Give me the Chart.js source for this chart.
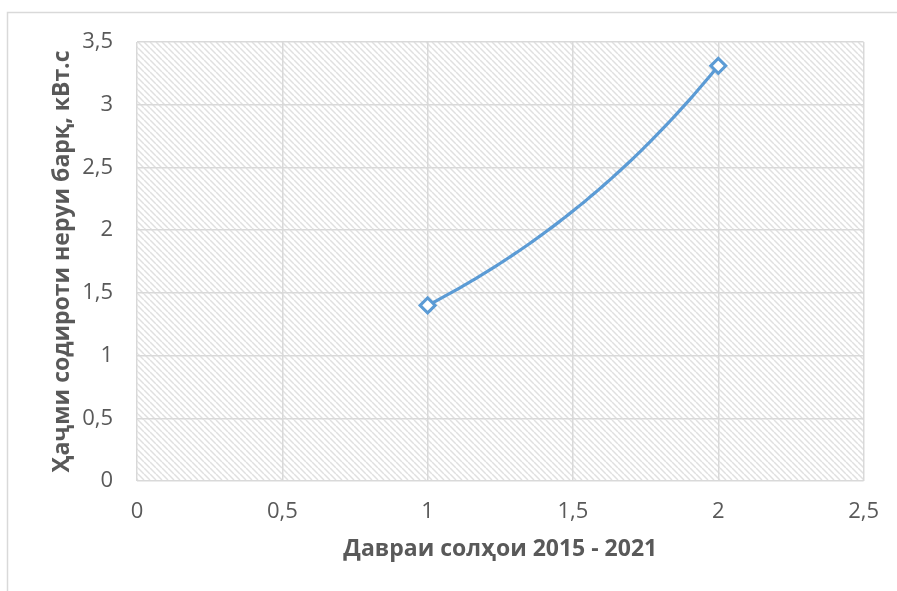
<!DOCTYPE html>
<html>
<head>
<meta charset="utf-8">
<script src="https://cdn.jsdelivr.net/npm/chart.js@4/dist/chart.umd.min.js"></script>
<style>
  html, body { margin: 0; padding: 0; background: #fff; }
  #wrap { width: 897px; height: 591px; position: relative; }
</style>
</head>
<body>
<div id="wrap"><canvas id="chart" width="897" height="591"></canvas></div>
<script>
// observed points (period index -> output, kWh)
const periods = [1, 2];
const output = [1.4, 3.31];
const xTicks = [0, 0.5, 1, 1.5, 2, 2.5];
const yTicks = [0, 0.5, 1, 1.5, 2, 2.5, 3, 3.5];

const xTitle = 'Давраи солҳои 2015 - 2021';
const yTitle = 'Ҳаҷми содироти неруи барқ, кВт.с';

const BLUE = '#5b9bd5';
const GRID = '#d9d9d9';
const TEXT = '#595959';
const FONT = "'Open Sans', 'Noto Sans', sans-serif";

const comma = v => String(v).replace('.', ',');

// light diagonal hatch for the plot area
function hatchPattern(ctx) {
  const n = 6;
  const c = document.createElement('canvas');
  c.width = n; c.height = n;
  const p = c.getContext('2d');
  p.strokeStyle = '#e0e0e0';
  p.lineWidth = 1.5;
  p.beginPath();
  for (const o of [-n, 0, n]) {
    p.moveTo(o, 0);
    p.lineTo(o + n, n);
  }
  p.stroke();
  return ctx.createPattern(c, 'repeat');
}

const backdrop = {
  id: 'backdrop',
  beforeDraw(chart) {
    const { ctx, chartArea: a } = chart;
    ctx.save();
    // outer frame (top and left edges)
    ctx.strokeStyle = '#d9d9d9';
    ctx.lineWidth = 1.5;
    ctx.beginPath();
    ctx.moveTo(7.5, chart.height);
    ctx.lineTo(7.5, 12.5);
    ctx.lineTo(chart.width, 12.5);
    ctx.stroke();
    ctx.fillStyle = hatchPattern(ctx);
    ctx.fillRect(a.left, a.top, a.right - a.left, a.bottom - a.top);
    ctx.restore();
  }
};

// exponential trendline fitted on the observed points
const expTrend = {
  id: 'expTrend',
  beforeDatasetsDraw(chart) {
    const n = periods.length;
    let sx = 0, sy = 0, sxx = 0, sxy = 0;
    for (let i = 0; i < n; i++) {
      const ly = Math.log(output[i]);
      sx += periods[i]; sy += ly;
      sxx += periods[i] * periods[i]; sxy += periods[i] * ly;
    }
    const b = (n * sxy - sx * sy) / (n * sxx - sx * sx);
    const a = Math.exp((sy - b * sx) / n);
    const xs = chart.scales.x, ys = chart.scales.y;
    const x0 = Math.min(...periods), x1 = Math.max(...periods);
    const ctx = chart.ctx;
    ctx.save();
    ctx.strokeStyle = BLUE;
    ctx.lineWidth = 3.2;
    ctx.lineCap = 'round';
    ctx.beginPath();
    const steps = 80;
    for (let k = 0; k <= steps; k++) {
      const x = x0 + (x1 - x0) * k / steps;
      const px = xs.getPixelForValue(x), py = ys.getPixelForValue(a * Math.exp(b * x));
      k ? ctx.lineTo(px, py) : ctx.moveTo(px, py);
    }
    ctx.stroke();
    ctx.restore();
  }
};

new Chart(document.getElementById('chart'), {
  type: 'scatter',
  data: {
    datasets: [{
      data: periods.map((x, i) => ({ x, y: output[i] })),
      showLine: false,
      pointStyle: 'rectRot',
      pointRadius: 7.5,
      pointBorderWidth: 3,
      pointBorderColor: BLUE,
      pointBackgroundColor: '#fff'
    }]
  },
  options: {
    responsive: false,
    animation: false,
    layout: { padding: { top: 42, right: 32, bottom: 28, left: 49 } },
    plugins: { legend: { display: false }, tooltip: { enabled: false } },
    scales: {
      x: {
        type: 'linear', min: 0, max: 2.5,
        afterBuildTicks: s => { s.ticks = xTicks.map(value => ({ value })); },
        afterFit: s => { s.height = 82; },
        grid: { color: GRID, lineWidth: 1.5, drawTicks: false },
        border: { display: false },
        ticks: { color: TEXT, font: { family: FONT, size: 22 }, padding: 18, callback: comma, maxRotation: 0 },
        title: { display: true, text: xTitle, color: TEXT, font: { family: FONT, size: 23, weight: 'bold' }, padding: { top: 0, bottom: 0 } }
      },
      y: {
        type: 'linear', min: 0, max: 3.5,
        afterBuildTicks: s => { s.ticks = yTicks.map(value => ({ value })); },
        afterFit: s => { s.width = 88; },
        grid: { color: GRID, lineWidth: 1.5, drawTicks: false },
        border: { display: false },
        ticks: { color: TEXT, font: { family: FONT, size: 22 }, padding: 24, callback: comma },
        title: { display: true, text: yTitle, color: TEXT, font: { family: FONT, size: 23, weight: 'bold' }, padding: { top: 0, bottom: 0 } }
      }
    }
  },
  plugins: [backdrop, expTrend]
});
</script>
</body>
</html>
